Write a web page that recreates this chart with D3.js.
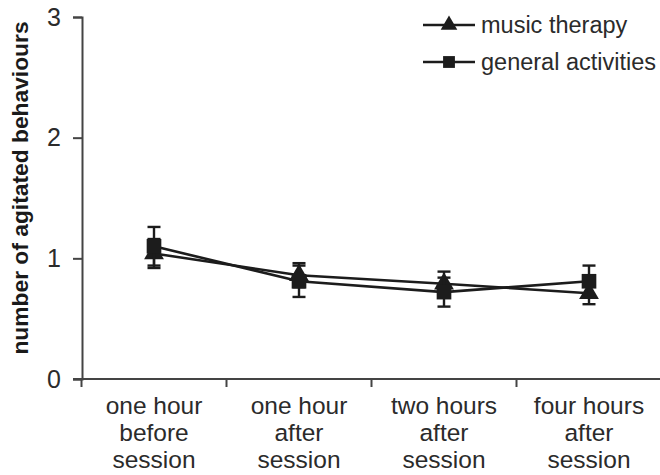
<!DOCTYPE html>
<html>
<head>
<meta charset="utf-8">
<script src="https://cdn.jsdelivr.net/npm/d3@7"></script>
<style>
  html, body { margin: 0; padding: 0; background: #fff; }
  svg { display: block; }
  text { font-family: Arial, "Liberation Sans", sans-serif; fill: #2b2b2b; }
</style>
</head>
<body>
<svg id="chart" width="660" height="475"></svg>
<script>
// Time points (x categories), each label split into lines
const categories = ["one hour before session", "one hour after session", "two hours after session", "four hours after session"];
const categoryLines = [["one hour", "before", "session"], ["one hour", "after", "session"], ["two hours", "after", "session"], ["four hours", "after", "session"]];

// Mean number of agitated behaviours and error bar half-widths
const musicTherapy = [1.04, 0.86, 0.79, 0.71];
const musicTherapyErr = [0.12, 0.10, 0.10, 0.09];
const generalActivities = [1.10, 0.81, 0.72, 0.81];
const generalActivitiesErr = [0.16, 0.13, 0.12, 0.13];

const yTicks = [0, 1, 2, 3];

const series = [
  { name: "music therapy", values: musicTherapy, err: musicTherapyErr, symbol: d3.symbolTriangle },
  { name: "general activities", values: generalActivities, err: generalActivitiesErr, symbol: d3.symbolSquare }
];

const svg = d3.select("#chart");
const ink = "#1c1c1c";

const x = d3.scaleBand().domain(categories).range([81.5, 661.5]).padding(0);
const y = d3.scaleLinear().domain([0, 3]).range([379, 17]);
const cx = c => x(c) + x.bandwidth() / 2;

// Axes
const yAxis = svg.append("g")
  .attr("transform", "translate(82,0)")
  .call(d3.axisLeft(y).tickValues(yTicks).tickFormat(d3.format("d")).tickSize(9).tickPadding(12));
yAxis.select(".domain").attr("stroke", "#444").attr("stroke-width", 2);
yAxis.selectAll(".tick line").attr("stroke", "#444").attr("stroke-width", 2);
yAxis.selectAll(".tick text").attr("font-size", 25).style("fill", "#2b2b2b");

const xAxis = svg.append("g")
  .attr("transform", "translate(0,379)")
  .call(d3.axisBottom(x).tickSize(0).tickFormat(""));
xAxis.select(".domain").attr("stroke", "#444").attr("stroke-width", 2)
  .attr("d", "M73,0H660");
// Tick marks between the categories
svg.append("g").selectAll("line")
  .data(categories)
  .join("line")
  .attr("x1", d => x(d)).attr("x2", d => x(d))
  .attr("y1", 379).attr("y2", 387)
  .attr("stroke", "#444").attr("stroke-width", 2);

// Category labels
svg.append("g").selectAll("text")
  .data(categories)
  .join("text")
  .attr("text-anchor", "middle")
  .attr("font-size", 24.5)
  .attr("transform", d => `translate(${cx(d)},414)`)
  .each(function(d, i) {
    d3.select(this).selectAll("tspan")
      .data(categoryLines[i])
      .join("tspan")
      .attr("x", 0)
      .attr("dy", (t, j) => j === 0 ? 0 : 27)
      .text(t => t);
  });

// Y axis title
svg.append("text")
  .attr("transform", "translate(28,188) rotate(-90)")
  .attr("text-anchor", "middle")
  .attr("font-size", 22.8)
  .attr("font-weight", "bold")
  .style("fill", "#1a1a1a")
  .text("number of agitated behaviours");

// Series: line, error bars, markers
const line = d3.line().x((d, i) => cx(categories[i])).y(d => y(d));
const capHalf = 6.5;

series.forEach(s => {
  const g = svg.append("g");
  g.append("path")
    .attr("d", line(s.values))
    .attr("fill", "none")
    .attr("stroke", ink)
    .attr("stroke-width", 2.6);

  const eb = g.append("g").selectAll("g")
    .data(s.values.map((v, i) => ({ v, e: s.err[i], c: categories[i] })))
    .join("g");
  eb.append("line")
    .attr("x1", d => cx(d.c)).attr("x2", d => cx(d.c))
    .attr("y1", d => y(d.v + d.e)).attr("y2", d => y(d.v - d.e))
    .attr("stroke", ink).attr("stroke-width", 2.4);
  eb.append("line")
    .attr("x1", d => cx(d.c) - capHalf).attr("x2", d => cx(d.c) + capHalf)
    .attr("y1", d => y(d.v + d.e)).attr("y2", d => y(d.v + d.e))
    .attr("stroke", ink).attr("stroke-width", 2.4);
  eb.append("line")
    .attr("x1", d => cx(d.c) - capHalf).attr("x2", d => cx(d.c) + capHalf)
    .attr("y1", d => y(d.v - d.e)).attr("y2", d => y(d.v - d.e))
    .attr("stroke", ink).attr("stroke-width", 2.4);

  g.append("g").selectAll("path")
    .data(s.values)
    .join("path")
    .attr("d", d3.symbol().type(s.symbol).size(s.symbol === d3.symbolSquare ? 215 : 170))
    .attr("transform", (d, i) => `translate(${cx(categories[i])},${y(d)})`)
    .attr("fill", ink);
});

// Legend
const legend = svg.append("g");
series.forEach((s, i) => {
  const ly = 25 + i * 37;
  legend.append("line")
    .attr("x1", 423).attr("x2", 475).attr("y1", ly).attr("y2", ly)
    .attr("stroke", ink).attr("stroke-width", 2.4);
  legend.append("path")
    .attr("d", d3.symbol().type(s.symbol).size(s.symbol === d3.symbolSquare ? 140 : 120))
    .attr("transform", `translate(449,${ly})`)
    .attr("fill", ink);
  legend.append("text")
    .attr("x", 481).attr("y", ly)
    .attr("dy", "0.35em")
    .attr("font-size", 23.5)
    .text(s.name);
});
</script>
</body>
</html>
